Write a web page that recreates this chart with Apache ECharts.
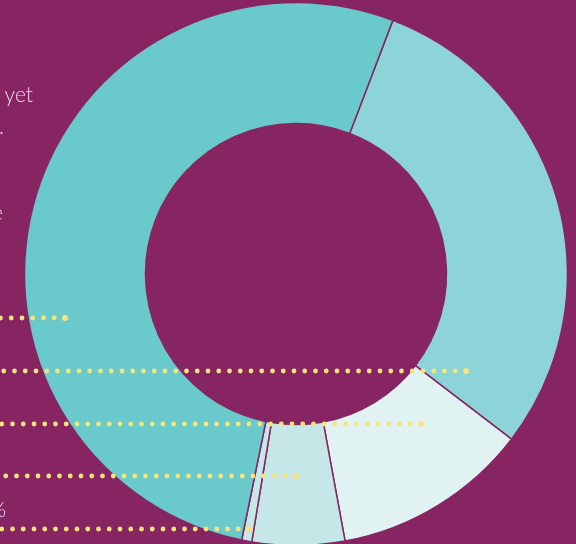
<!DOCTYPE html>
<html>
<head>
<meta charset="utf-8">
<script src="https://cdn.jsdelivr.net/npm/echarts@6/dist/echarts.min.js"></script>
<style>
html,body{margin:0;padding:0;background:#872563;}
#chart{width:576px;height:544px;}
</style>
</head>
<body>
<div id="chart"></div>
<script>
// Slice shares (percent), clockwise
const categories = ['A', 'B', 'C', 'D', 'E'];
const values = [29.6, 11.7, 5.5, 0.6, 52.6];
const sliceColors = ['#8cd4d8', '#e0f2f1', '#c5e7e8', '#c5e7e8', '#6acacb'];
// Visible fragments of the (cropped) left-hand labels
const labelTexts = ['yet', '.', 'e', '%'];

const chart = echarts.init(document.getElementById('chart'), null, {renderer: 'canvas'});
const BG = '#872563';
const YEL = '#f7e47c';

const cx = 296, cy = 274;
const STEP = 10.75;
// leader rows: y position and end x
const leaders = [
  {y: 318, x2: 65},
  {y: 371, x2: 466},
  {y: 424, x2: 421},
  {y: 476, x2: 296},
  {y: 529, x2: 249}
];

const graphics = [];
leaders.forEach(l => {
  const n = Math.floor(l.x2 / STEP);
  const x1 = l.x2 - n * STEP;
  graphics.push({
    type: 'line', z: 100,
    shape: {x1: x1, y1: l.y, x2: l.x2 - STEP + 0.01, y2: l.y},
    style: {stroke: YEL, lineWidth: 4.8, lineCap: 'round', lineDash: [0.01, STEP - 0.01]}
  });
  graphics.push({
    type: 'circle', z: 100,
    shape: {cx: l.x2, cy: l.y, r: 2.9},
    style: {fill: YEL}
  });
});
const textPos = [
  {x: 33, y: 95}, {x: 4, y: 127}, {x: 3, y: 213}, {x: 6, y: 510}
];
labelTexts.forEach((t, i) => {
  graphics.push({
    type: 'text', z: 100,
    style: {
      text: t, x: textPos[i].x, y: textPos[i].y,
      textAlign: 'right', textVerticalAlign: 'middle',
      fill: '#eadbe5', font: '300 21px Lato, "Open Sans", sans-serif'
    }
  });
});

chart.setOption({
  backgroundColor: BG,
  animation: false,
  series: [{
    type: 'pie',
    center: [cx, cy],
    radius: [150.5, 271.5],
    startAngle: 90 - 20.9,
    clockwise: true,
    label: {show: false},
    labelLine: {show: false},
    silent: true,
    itemStyle: {borderColor: BG, borderWidth: 1.5},
    data: categories.map((c, i) => ({
      name: c, value: values[i], itemStyle: {color: sliceColors[i]}
    }))
  }],
  graphic: graphics
});
</script>
</body>
</html>
